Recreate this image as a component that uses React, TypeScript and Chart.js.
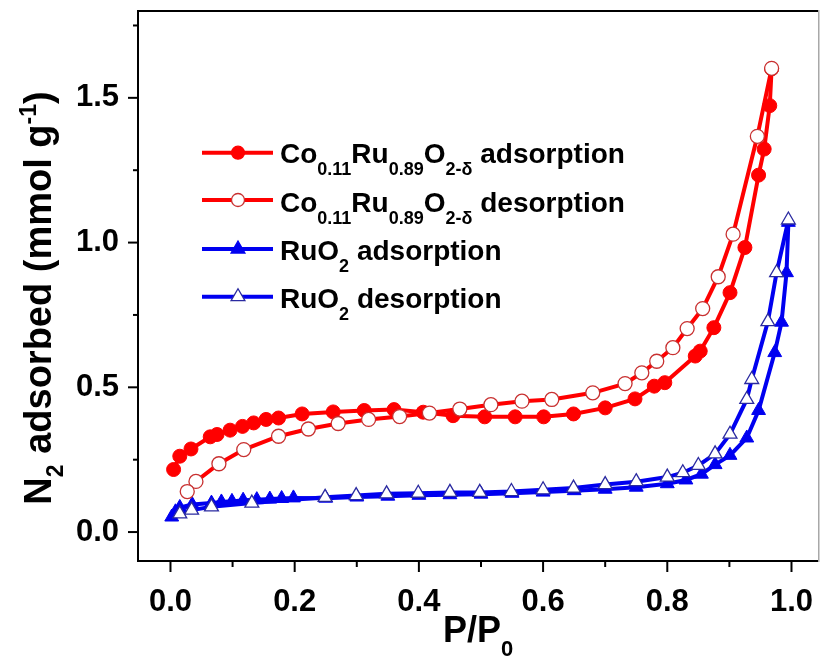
import React, { useEffect, useRef } from "react";
import { Chart, registerables } from "chart.js";

Chart.register(...registerables);

const FONT = '"Liberation Sans", Arial, Helvetica, sans-serif';

// ---- data ----
const redAdsX = [0.005, 0.015, 0.033, 0.064, 0.075, 0.096, 0.116, 0.134, 0.154, 0.174, 0.212, 0.262, 0.312, 0.360, 0.407, 0.455, 0.506, 0.555, 0.601, 0.649, 0.700, 0.748, 0.779, 0.796, 0.845, 0.853, 0.875, 0.901, 0.925, 0.947, 0.956, 0.965, 0.968];
const redAdsY = [0.216, 0.262, 0.287, 0.329, 0.337, 0.352, 0.365, 0.377, 0.389, 0.394, 0.408, 0.415, 0.420, 0.423, 0.414, 0.402, 0.398, 0.398, 0.398, 0.408, 0.429, 0.460, 0.504, 0.516, 0.608, 0.625, 0.706, 0.827, 0.983, 1.233, 1.323, 1.473, 1.600];

const redDesX = [0.968, 0.945, 0.906, 0.882, 0.857, 0.832, 0.809, 0.783, 0.759, 0.732, 0.680, 0.614, 0.566, 0.516, 0.466, 0.417, 0.369, 0.319, 0.270, 0.222, 0.174, 0.118, 0.078, 0.041, 0.027];
const redDesY = [1.602, 1.367, 1.029, 0.882, 0.772, 0.703, 0.637, 0.590, 0.550, 0.513, 0.481, 0.458, 0.452, 0.440, 0.425, 0.411, 0.399, 0.389, 0.375, 0.356, 0.331, 0.285, 0.236, 0.175, 0.140];

const blueAdsX = [0.002, 0.008, 0.015, 0.035, 0.066, 0.082, 0.099, 0.117, 0.139, 0.160, 0.179, 0.198, 0.25, 0.30, 0.35, 0.40, 0.45, 0.50, 0.55, 0.60, 0.65, 0.70, 0.75, 0.80, 0.830, 0.855, 0.877, 0.901, 0.928, 0.947, 0.973, 0.984, 0.992, 0.995];
const blueAdsY = [0.052, 0.070, 0.085, 0.095, 0.100, 0.104, 0.106, 0.110, 0.112, 0.114, 0.116, 0.118, 0.117, 0.121, 0.124, 0.127, 0.129, 0.131, 0.134, 0.138, 0.143, 0.148, 0.155, 0.167, 0.180, 0.200, 0.233, 0.265, 0.325, 0.420, 0.620, 0.725, 0.896, 1.070];

const blueDesX = [0.995, 0.976, 0.962, 0.936, 0.928, 0.901, 0.877, 0.850, 0.825, 0.800, 0.750, 0.700, 0.649, 0.600, 0.549, 0.498, 0.450, 0.399, 0.348, 0.299, 0.249, 0.131, 0.066, 0.034, 0.015];
const blueDesY = [1.078, 0.896, 0.727, 0.527, 0.458, 0.338, 0.270, 0.230, 0.205, 0.190, 0.174, 0.164, 0.152, 0.146, 0.140, 0.137, 0.137, 0.134, 0.132, 0.126, 0.120, 0.100, 0.087, 0.076, 0.063];

const xMajorTicks = [0.0, 0.2, 0.4, 0.6, 0.8, 1.0];
const xMinorTicks = [0.1, 0.3, 0.5, 0.7, 0.9];
const yMajorTicks = [0.0, 0.5, 1.0, 1.5];
const yMinorTicks = [0.25, 0.75, 1.25, 1.75];

const X_MIN = -0.0523;
const X_MAX = 1.0443;
const Y_MIN = -0.1;
const Y_MAX = 1.8;

type Seg = { t: string; s?: "sub" | "sup" };

const legendRows: { segs: Seg[]; color: string; style: string; fill: boolean }[] = [
  { segs: [{ t: "Co" }, { t: "0.11", s: "sub" }, { t: "Ru" }, { t: "0.89", s: "sub" }, { t: "O" }, { t: "2-δ", s: "sub" }, { t: " adsorption" }], color: "#f00", style: "circle", fill: true },
  { segs: [{ t: "Co" }, { t: "0.11", s: "sub" }, { t: "Ru" }, { t: "0.89", s: "sub" }, { t: "O" }, { t: "2-δ", s: "sub" }, { t: " desorption" }], color: "#f00", style: "circle", fill: false },
  { segs: [{ t: "RuO" }, { t: "2", s: "sub" }, { t: " adsorption" }], color: "#0000f0", style: "triangle", fill: true },
  { segs: [{ t: "RuO" }, { t: "2", s: "sub" }, { t: " desorption" }], color: "#0000f0", style: "triangle", fill: false },
];

const yTitle: Seg[] = [{ t: "N" }, { t: "2", s: "sub" }, { t: " adsorbed (mmol g" }, { t: "-1", s: "sup" }, { t: ")" }];
const xTitle: Seg[] = [{ t: "P/P" }, { t: "0", s: "sub" }];

const toPts = (xs: number[], ys: number[]) => xs.map((x, i) => ({ x, y: ys[i] }));

function drawRich(ctx: CanvasRenderingContext2D, segs: Seg[], x: number, y: number, size: number, subSize: number, subDy: number, supDy: number, align: "left" | "center") {
  const widths = segs.map((s) => {
    ctx.font = `bold ${s.s ? subSize : size}px ${FONT}`;
    return ctx.measureText(s.t).width;
  });
  const total = widths.reduce((a, b) => a + b, 0);
  let cx = align === "center" ? x - total / 2 : x;
  ctx.textBaseline = "alphabetic";
  ctx.textAlign = "left";
  segs.forEach((s, i) => {
    ctx.font = `bold ${s.s ? subSize : size}px ${FONT}`;
    const dy = s.s === "sub" ? subDy : s.s === "sup" ? -supDy : 0;
    ctx.fillText(s.t, cx, y + dy);
    cx += widths[i];
  });
}

function drawMarker(ctx: CanvasRenderingContext2D, style: string, x: number, y: number, r: number, color: string, fill: boolean, edge: string) {
  ctx.beginPath();
  if (style === "circle") {
    ctx.arc(x, y, r, 0, Math.PI * 2);
  } else {
    const a = -Math.PI / 2;
    for (let k = 0; k < 3; k++) {
      const ang = a + (k * 2 * Math.PI) / 3;
      const px = x + Math.cos(ang) * r;
      const py = y + Math.sin(ang) * r;
      if (k === 0) ctx.moveTo(px, py);
      else ctx.lineTo(px, py);
    }
    ctx.closePath();
  }
  ctx.fillStyle = fill ? color : "#fff";
  ctx.fill();
  ctx.lineWidth = 1.3;
  ctx.strokeStyle = fill ? color : edge;
  ctx.stroke();
}

function seg(ctx: CanvasRenderingContext2D, x1: number, y1: number, x2: number, y2: number, color: string, w: number) {
  ctx.beginPath();
  ctx.strokeStyle = color;
  ctx.lineWidth = w;
  ctx.moveTo(x1, y1);
  ctx.lineTo(x2, y2);
  ctx.stroke();
}

const RIGHT_PAD = 2;

const decorPlugin = {
  id: "decor",
  afterLayout(chart: any) {
    // force the plot area to reach the right edge (minus a small padding)
    const xs = chart.scales.x;
    const target = chart.width - RIGHT_PAD;
    if (xs && Math.abs(xs.right - target) > 0.5) {
      xs.right = target;
      xs.width = target - xs.left;
      xs.configure();
      chart.chartArea.right = target;
      chart.chartArea.width = target - chart.chartArea.left;
    }
  },
  afterDraw(chart: any) {
    const ctx: CanvasRenderingContext2D = chart.ctx;
    const xs = chart.scales.x;
    const ys = chart.scales.y;
    const left = xs.getPixelForValue(X_MIN);
    const right = xs.getPixelForValue(X_MAX);
    const top = ys.getPixelForValue(Y_MAX);
    const bottom = ys.getPixelForValue(Y_MIN);
    ctx.save();
    ctx.setLineDash([]);
    ctx.globalAlpha = 1;
    ctx.globalCompositeOperation = "source-over";
    // frame
    ctx.fillStyle = "#000";
    ctx.fillRect(left - 1, top - 1, right - left + 1, 2);
    ctx.fillRect(left - 1, bottom - 1, right - left + 1, 2);
    ctx.fillRect(left - 1, top - 1, 2, bottom - top + 2);
    ctx.fillStyle = "#a8a8a8";
    ctx.fillRect(right - 1, top - 1, 1.5, bottom - top + 2);
    // ticks
    xMajorTicks.forEach((v) => { const p = xs.getPixelForValue(v); seg(ctx, p, bottom, p, bottom + 11, "#000", 2); });
    xMinorTicks.forEach((v) => { const p = xs.getPixelForValue(v); seg(ctx, p, bottom, p, bottom + 6, "#000", 2); });
    yMajorTicks.forEach((v) => { const p = ys.getPixelForValue(v); seg(ctx, left, p, left - 10, p, "#000", 2); });
    yMinorTicks.forEach((v) => { const p = ys.getPixelForValue(v); seg(ctx, left, p, left - 5, p, "#000", 2); });
    // axis titles
    ctx.fillStyle = "#000";
    drawRich(ctx, xTitle, 443, 642, 36, 22, 14, 0, "left");
    ctx.save();
    ctx.translate(51, 298);
    ctx.rotate(-Math.PI / 2);
    drawRich(ctx, yTitle, 0, 0, 38, 23, 12, 15, "center");
    ctx.restore();
    // legend
    const rowMarkY = [152.7, 200, 249, 296.7];
    const rowBase = [163.3, 211.7, 260, 307.7];
    legendRows.forEach((row, i) => {
      seg(ctx, 202, rowMarkY[i], 273, rowMarkY[i], row.color, 4);
      drawMarker(ctx, row.style, 238, rowMarkY[i], row.style === "circle" ? 6.5 : 8, row.color, row.fill, row.style === "circle" ? "#c83030" : "#2a2aa0");
      ctx.fillStyle = "#000";
      drawRich(ctx, row.segs, 280, rowBase[i], 28, 18, 12, 0, "left");
    });
    ctx.restore();
  },
};

const zeroPad = (s: any) => {
  s.paddingLeft = 0;
  s.paddingRight = 0;
  s.paddingTop = 0;
  s.paddingBottom = 0;
};

export default function App() {
  const ref = useRef<HTMLCanvasElement>(null);
  useEffect(() => {
    if (!ref.current) return;
    const red = "#f00";
    const blue = "#0000f0";
    const chart = new Chart(ref.current, {
      type: "line",
      data: {
        datasets: [
          { label: "Co0.11Ru0.89O2-δ desorption", data: toPts(redDesX, redDesY), borderColor: red, borderWidth: 4, pointStyle: "circle", pointRadius: 7, pointBackgroundColor: "#fff", pointBorderColor: "#c83030", pointBorderWidth: 1.3, order: 0 },
          { label: "Co0.11Ru0.89O2-δ adsorption", data: toPts(redAdsX, redAdsY), borderColor: red, borderWidth: 4, pointStyle: "circle", pointRadius: 7, pointBackgroundColor: red, pointBorderColor: red, pointBorderWidth: 1, order: 1 },
          { label: "RuO2 desorption", data: toPts(blueDesX, blueDesY), borderColor: blue, borderWidth: 4, pointStyle: "triangle", pointRadius: 8, pointBackgroundColor: "#fff", pointBorderColor: "#2a2aa0", pointBorderWidth: 1.3, order: 2 },
          { label: "RuO2 adsorption", data: toPts(blueAdsX, blueAdsY), borderColor: blue, borderWidth: 4, pointStyle: "triangle", pointRadius: 8, pointBackgroundColor: blue, pointBorderColor: blue, pointBorderWidth: 1, order: 3 },
        ],
      },
      options: {
        animation: false,
        responsive: false,
        devicePixelRatio: 1,
        layout: { padding: { top: 11, right: RIGHT_PAD, left: 0, bottom: 0 } },
        plugins: { legend: { display: false }, tooltip: { enabled: false }, title: { display: false } },
        elements: { line: { tension: 0 } },
        scales: {
          x: {
            type: "linear", min: X_MIN, max: X_MAX,
            border: { display: false },
            grid: { display: true, drawOnChartArea: false, drawTicks: true, tickLength: 10, tickColor: "rgba(0,0,0,0)" },
            afterBuildTicks: (s: any) => { s.ticks = xMajorTicks.map((v) => ({ value: v })); },
            afterFit: (s: any) => { s.height = 96; zeroPad(s); },
            ticks: { autoSkip: false, maxRotation: 0, padding: 13, color: "#000", font: { family: FONT, size: 31, weight: "bold" }, callback: (v: any) => Number(v).toFixed(1) },
          },
          y: {
            type: "linear", min: Y_MIN, max: Y_MAX,
            border: { display: false },
            grid: { display: true, drawOnChartArea: false, drawTicks: true, tickLength: 10, tickColor: "rgba(0,0,0,0)" },
            afterBuildTicks: (s: any) => { s.ticks = yMajorTicks.map((v) => ({ value: v })); },
            afterFit: (s: any) => { s.width = 138; zeroPad(s); },
            ticks: { autoSkip: false, padding: 9, color: "#000", font: { family: FONT, size: 31, weight: "bold" }, callback: (v: any) => Number(v).toFixed(1) },
          },
        },
      },
      plugins: [decorPlugin],
    } as any);
    return () => chart.destroy();
  }, []);
  return (
    <div style={{ position: "absolute", left: 0, top: 0, width: 821, height: 657, background: "#fff" }}>
      <canvas ref={ref} width={821} height={657} style={{ display: "block" }} />
    </div>
  );
}
